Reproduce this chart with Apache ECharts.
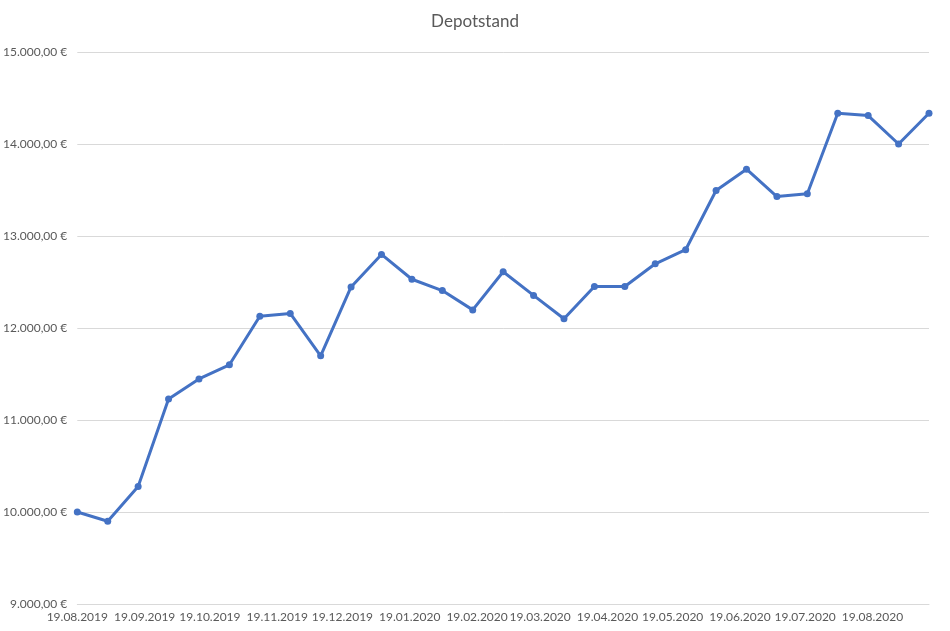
<!DOCTYPE html>
<html>
<head>
<meta charset="utf-8">
<script src="https://cdn.jsdelivr.net/npm/echarts@6/dist/echarts.min.js"></script>
<style>
html,body{margin:0;padding:0;background:#fff;}
#chart{width:950px;height:631px;}
</style>
</head>
<body>
<div id="chart"></div>
<script>
var title = 'Depotstand';
var startDate = '2019-08-19';
var endDate = '2020-09-14';
var pointDates = [
  '19.08.2019','02.09.2019','16.09.2019','30.09.2019','14.10.2019','28.10.2019',
  '11.11.2019','25.11.2019','09.12.2019','23.12.2019','06.01.2020','20.01.2020',
  '03.02.2020','17.02.2020','02.03.2020','16.03.2020','30.03.2020','13.04.2020',
  '27.04.2020','11.05.2020','25.05.2020','08.06.2020','22.06.2020','06.07.2020',
  '20.07.2020','03.08.2020','17.08.2020','31.08.2020','14.09.2020'
];
var depotValues = [
  10000, 9900, 10276, 11227, 11446, 11600,
  12127, 12158, 11698, 12446, 12800, 12530,
  12407, 12197, 12612, 12354, 12100, 12451,
  12451, 12698, 12851, 13494, 13726, 13429,
  13460, 14335, 14309, 14000, 14335
];
var yMin = 9000, yMax = 15000, yStep = 1000;

function pad(n){return (n<10?'0':'')+n;}
function fmtDate(d){return pad(d.getUTCDate())+'.'+pad(d.getUTCMonth()+1)+'.'+d.getUTCFullYear();}
var dayCategories = [];
(function(){
  var d = new Date(startDate+'T00:00:00Z');
  var e = new Date(endDate+'T00:00:00Z');
  while (d <= e) { dayCategories.push(fmtDate(d)); d = new Date(d.getTime()+86400000); }
})();

function fmtEuro(v){
  var s = Math.round(v).toString().replace(/\B(?=(\d{3})+(?!\d))/g, '.');
  return s + ',00 €';
}

var seriesData = pointDates.map(function(d,i){ return [d, depotValues[i]]; });

var chart = echarts.init(document.getElementById('chart'));
var font = 'Lato, "Open Sans", sans-serif';
chart.setOption({
  backgroundColor: '#ffffff',
  animation: false,
  title: {
    text: title, left: 'center', top: 8,
    textStyle: { color: '#595959', fontSize: 17, fontWeight: 'normal', fontFamily: font }
  },
  grid: { left: 76, right: 21, top: 52, bottom: 27, containLabel: false },
  xAxis: {
    type: 'category',
    data: dayCategories,
    boundaryGap: false,
    axisLine: { lineStyle: { color: '#d9d9d9', width: 1 } },
    axisTick: { show: false },
    axisLabel: {
      interval: function(index, value){ return value.indexOf('19.') === 0; },
      color: '#595959', fontSize: 12, fontFamily: font, margin: 7, hideOverlap: false
    },
    splitLine: { show: false }
  },
  yAxis: {
    type: 'value',
    min: yMin, max: yMax, interval: yStep,
    axisLine: { show: false },
    axisTick: { show: false },
    axisLabel: { formatter: fmtEuro, color: '#595959', fontSize: 12, fontFamily: font, margin: 10 },
    splitLine: { lineStyle: { color: '#d9d9d9', width: 1 } }
  },
  series: [{
    type: 'line',
    data: seriesData,
    symbol: 'circle',
    symbolSize: 7,
    showSymbol: true,
    showAllSymbol: true,
    lineStyle: { color: '#4472C4', width: 3 },
    itemStyle: { color: '#4472C4' },
    connectNulls: true
  }]
});
</script>
</body>
</html>
